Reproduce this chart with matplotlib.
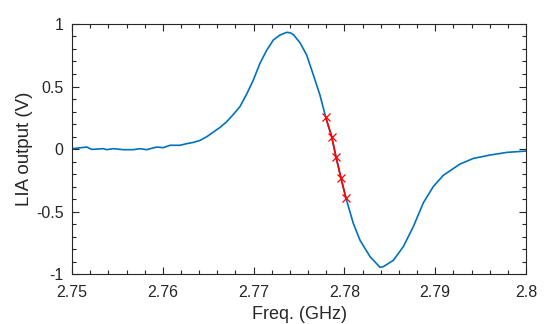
import matplotlib
matplotlib.use("Agg")
import matplotlib.pyplot as plt
from matplotlib.ticker import MultipleLocator, FixedLocator

plt.rcParams.update({"font.family": ["Liberation Sans", "DejaVu Sans"], "font.size": 11,
                     "axes.unicode_minus": False})

# LIA output sweep (GHz, V)
freq = [2.75003, 2.75162, 2.75217, 2.75345, 2.75382, 2.75455, 2.75565, 2.75675, 2.75749,
        2.75822, 2.75932, 2.76006, 2.76079, 2.76189, 2.76263, 2.76336, 2.76410, 2.76483,
        2.76557, 2.76630, 2.76704, 2.76777, 2.76850, 2.76924, 2.76997, 2.77070, 2.77144,
        2.77217, 2.77291, 2.77364, 2.77401, 2.77438, 2.77511, 2.77584, 2.77658, 2.77731,
        2.77794, 2.77860, 2.77907, 2.77963, 2.78018, 2.78098, 2.78172, 2.78282, 2.78392,
        2.78429, 2.78539, 2.78649, 2.78759, 2.78869, 2.78979, 2.79089, 2.79273, 2.79420,
        2.79604, 2.79787, 2.80000]
lia = [0.003, 0.016, -0.003, 0.003, -0.005, 0.003, -0.005, -0.005, 0.003,
       -0.005, 0.016, 0.011, 0.030, 0.030, 0.043, 0.053, 0.069, 0.098,
       0.136, 0.173, 0.219, 0.277, 0.340, 0.440, 0.552, 0.686, 0.790,
       0.872, 0.912, 0.933, 0.930, 0.915, 0.850, 0.752, 0.592, 0.430,
       0.254, 0.098, -0.062, -0.235, -0.395, -0.595, -0.730, -0.860, -0.946,
       -0.940, -0.890, -0.780, -0.620, -0.430, -0.300, -0.210, -0.120, -0.075,
       -0.048, -0.027, -0.016]

# fitted slope points
fit_freq = [2.77794, 2.77860, 2.77907, 2.77963, 2.78018]
fit_lia = [0.254, 0.098, -0.062, -0.235, -0.395]

fig = plt.figure(figsize=(5.54, 3.24), dpi=100)
ax = fig.add_axes([0.130, 0.154, 0.8195, 0.772])
ax.plot(freq, lia, color="#0072BD", lw=1.2)
ax.plot(fit_freq, fit_lia, color="#FF0000", lw=1.2, marker="x", ms=5.5, mew=0.9)

ax.set_xlim(2.75, 2.8)
ax.set_ylim(-1, 1)
ax.xaxis.set_major_locator(FixedLocator([2.75, 2.76, 2.77, 2.78, 2.79, 2.8]))
ax.set_xticklabels(["2.75", "2.76", "2.77", "2.78", "2.79", "2.8"])
ax.xaxis.set_minor_locator(MultipleLocator(0.002))
ax.yaxis.set_major_locator(FixedLocator([-1, -0.5, 0, 0.5, 1]))
ax.set_yticklabels(["-1", "-0.5", "0", "0.5", "1"])
ax.yaxis.set_minor_locator(MultipleLocator(0.1))

ink = "#262626"
for s in ax.spines.values():
    s.set_color(ink)
    s.set_linewidth(0.8)
ax.tick_params(which="both", direction="in", top=True, right=True, colors=ink,
               labelcolor=ink, labelsize=11.5)
ax.tick_params(which="major", length=5, width=0.8)
ax.tick_params(which="minor", length=3, width=0.8)
ax.tick_params(axis="x", which="major", pad=8)
ax.tick_params(axis="y", which="major", pad=6)

ax.set_xlabel("Freq. (GHz)", color=ink, fontsize=13, labelpad=4)
ax.set_ylabel("LIA output (V)", color=ink, fontsize=13.5, labelpad=2)

fig.savefig("out.png", dpi=100)
